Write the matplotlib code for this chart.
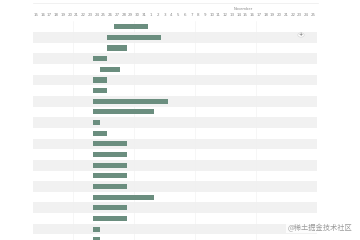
import numpy as np
import matplotlib
matplotlib.use('Agg')
import matplotlib.pyplot as plt

# timeline: Oct 15 .. Oct 31, Nov 1 .. Nov 25
day_labels = [str(d) for d in range(15, 32)] + [str(d) for d in range(1, 26)]
month_label = 'November'
month_pos = 30.6

# one task per row: first day index and length in days
bar_start = [12, 11, 11, 9, 10, 9, 9, 9, 9, 9, 9, 9, 9, 9, 9, 9, 9, 9, 9, 9, 9]
bar_days = [5, 8, 3, 2, 3, 2, 2, 11, 9, 1, 2, 5, 5, 5, 5, 5, 9, 5, 5, 1, 1]

bar_color = '#6b8e7f'
band_color = '#f1f1f1'
text_color = '#888888'

fig = plt.figure(figsize=(3.6, 2.4), dpi=100)
fig.patch.set_facecolor('white')
ax = fig.add_axes([0.0906, 0.0, 0.7886, 0.9108])

n_rows = len(bar_start)
# alternating row shading
for i in range(1, n_rows, 2):
    ax.axhspan(i - 0.5, i + 0.5, color=band_color, lw=0, zorder=0)

# faint column separators
for c in [6, 15, 24, 33]:
    ax.axvline(c - 0.5, color='#f0f0f0', lw=0.4, zorder=0.5)

rows = np.arange(n_rows)
ax.barh(rows, bar_days, left=np.array(bar_start) - 0.5, height=0.48,
        color=bar_color, edgecolor='none', zorder=2)

ax.set_xlim(-0.5, len(day_labels) - 0.5)
ax.set_ylim(-0.5 + 240 / 10.65 - 21.4 / 10.65, -0.5)
ax.xaxis.tick_top()
ax.set_xticks(range(len(day_labels)))
ax.set_xticklabels(day_labels, fontsize=2.9, color=text_color)
ax.tick_params(axis='x', length=0, pad=3.0)
ax.set_yticks([])
for s in ax.spines.values():
    s.set_visible(False)

ax.text(month_pos, 1.057, month_label, transform=ax.get_xaxis_transform(),
        fontsize=2.6, color=text_color, ha='center', va='center')

# top border line
fig.add_artist(plt.Line2D([33 / 360, 318 / 360], [1 - 3 / 240, 1 - 3 / 240],
                          color='#ececec', lw=0.5))

# small "+" button
fig.add_artist(matplotlib.patches.Circle((301 / 360, 1 - 35 / 240), 3.2 / 360,
                                         facecolor='white', edgecolor='#d0d0d0', lw=0.4,
                                         transform=fig.transFigure, zorder=5))
fig.text(301 / 360, 1 - 35 / 240, '+', fontsize=3.5, color='#555555',
         ha='center', va='center', zorder=6)

# watermark
fig.text(352 / 360, 1 - 228 / 240, '@稀土掘金技术社区', fontsize=5.2, color='#9a9a9a',
         ha='right', va='center', family=['Noto Sans CJK SC', 'DejaVu Sans'],
         bbox=dict(facecolor='white', edgecolor='none', pad=0.8, alpha=0.85))

plt.savefig('out.png', dpi=100)
plt.close()
